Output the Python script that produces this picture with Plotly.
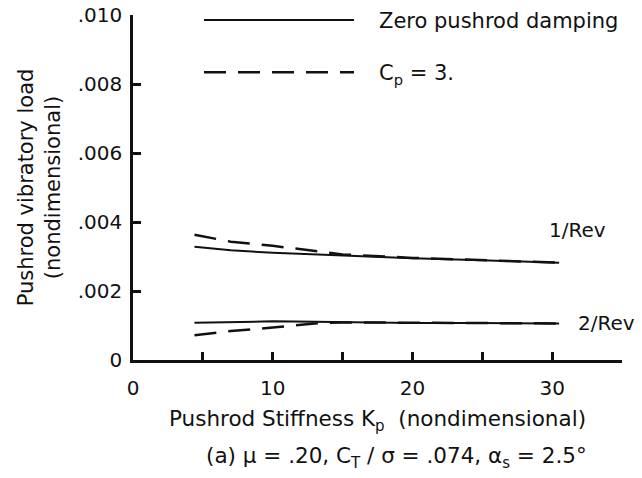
import plotly.graph_objects as go

# Data
k_vals = [4.4, 7, 10, 13, 15, 20, 25, 30.5]
rev1_zero = [0.00328, 0.00318, 0.00311, 0.00306, 0.00303, 0.00295, 0.00289, 0.00282]
rev1_cp3 = [0.00363, 0.00343, 0.00331, 0.00316, 0.00306, 0.00296, 0.00290, 0.00282]
rev2_zero = [0.00108, 0.00110, 0.00112, 0.00111, 0.00110, 0.00107, 0.00107, 0.00106]
rev2_cp3 = [0.00072, 0.00084, 0.00094, 0.00106, 0.00109, 0.00107, 0.00107, 0.00106]

x_tickvals = [0, 5, 10, 15, 20, 25, 30, 35]
x_ticktext = ["0", "", "10", "", "20", "", "30", ""]
y_tickvals = [0, 0.002, 0.004, 0.006, 0.008, 0.010]
y_ticktext = ["0", ".002", ".004", ".006", ".008", ".010"]

FONT = "DejaVu Sans, Liberation Sans, Arial, sans-serif"
INK = "#111111"
NB = "\u00a0"

fig = go.Figure()
fig.add_trace(go.Scatter(x=k_vals, y=rev1_zero, mode="lines", name=NB * 3 + "Zero pushrod damping",
                         legendgroup="zero", line=dict(color=INK, width=2)))
fig.add_trace(go.Scatter(x=k_vals, y=rev2_zero, mode="lines", showlegend=False,
                         legendgroup="zero", line=dict(color=INK, width=2)))
fig.add_trace(go.Scatter(x=k_vals, y=rev1_cp3, mode="lines", name=NB * 3 + "C<sub>p</sub> = 3.",
                         legendgroup="cp", line=dict(color=INK, width=2.5, dash="22px,12px")))
fig.add_trace(go.Scatter(x=k_vals, y=rev2_cp3, mode="lines", showlegend=False,
                         legendgroup="cp", line=dict(color=INK, width=2.5, dash="22px,12px")))

fig.add_annotation(x=29.6, y=0.00377, text="1/Rev", showarrow=False, xanchor="left",
                   font=dict(size=20, color=INK, family=FONT))
fig.add_annotation(x=31.7, y=0.00107, text="2/Rev", showarrow=False, xanchor="left",
                   font=dict(size=20, color=INK, family=FONT))
fig.add_annotation(x=0.538, y=-0.284, xref="paper", yref="paper", yanchor="middle",
                   text="(a) μ = .20, C<sub>T</sub> / σ = .074, α<sub>s</sub> = 2.5°",
                   showarrow=False, font=dict(size=21.5, color=INK, family=FONT))

fig.update_layout(
    width=642, height=478,
    margin=dict(l=133, r=20, t=15, b=118, autoexpand=False),
    paper_bgcolor="white", plot_bgcolor="white",
    font=dict(family=FONT, size=21, color=INK),
    showlegend=True,
    legend=dict(x=0.135, y=1.044, xanchor="left", yanchor="top",
                itemwidth=150, tracegroupgap=22, traceorder="grouped",
                font=dict(size=21, color=INK, family=FONT), bgcolor="rgba(0,0,0,0)"),
    xaxis=dict(range=[0, 35], tickmode="array", tickvals=x_tickvals, ticktext=x_ticktext,
               ticks="inside", ticklen=8, tickwidth=2.5, tickcolor=INK,
               showline=True, linewidth=2.5, linecolor=INK, showgrid=False, zeroline=False,
               tickfont=dict(size=20), ticklabelstandoff=8,
               title=dict(text="Pushrod Stiffness K<sub>p</sub>" + NB * 2 + "(nondimensional)",
                          font=dict(size=21.5), standoff=13)),
    yaxis=dict(range=[0, 0.010], tickmode="array", tickvals=y_tickvals, ticktext=y_ticktext,
               ticks="inside", ticklen=8, tickwidth=2.5, tickcolor=INK,
               showline=True, linewidth=2.5, linecolor=INK, showgrid=False, zeroline=False,
               tickfont=dict(size=20), ticklabelstandoff=4,
               title=dict(text="Pushrod vibratory load<br>(nondimensional)",
                          font=dict(size=21), standoff=12)),
)

fig.write_html("out.html")
